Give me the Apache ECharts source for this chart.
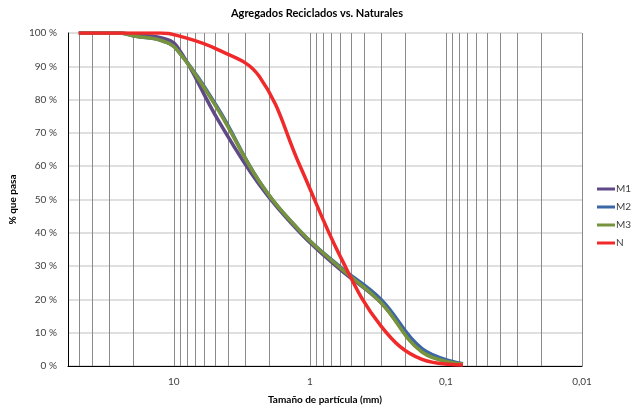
<!DOCTYPE html>
<html>
<head>
<meta charset="utf-8">
<script src="https://cdn.jsdelivr.net/npm/echarts@6/dist/echarts.min.js"></script>
<style>html,body{margin:0;padding:0;background:#fff}#c{width:634px;height:410px}</style>
</head>
<body>
<div id="c"></div>
<script>
const sizes = [50, 37.5, 25, 19, 12.5, 9.5, 4.75, 2.36, 1.18, 0.6, 0.3, 0.15, 0.075];
const M1 = [100, 100, 100, 99.4, 98.6, 96, 74, 54.5, 40, 29, 19, 4.5, 0.6];
const M2 = [100, 100, 100, 99, 97.8, 95, 77.5, 55.5, 40.5, 29.8, 20, 5.2, 0.7];
const M3 = [100, 100, 100, 99, 97.8, 95, 77, 55.5, 40.5, 29.5, 19, 4.2, 0.6];
const N  = [100, 100, 100, 100, 100, 99.3, 95, 87, 60, 33, 12, 2, 0.3];
const seriesNames = ['M1', 'M2', 'M3', 'N'];
const xTickValues = [10, 1, 0.1, 0.01];
const xTickLabels = ['10', '1', '0,1', '0,01'];
const minorGrid = [50, 40, 30, 20, 9, 8, 7, 6, 5, 4, 3, 2, 0.9, 0.8, 0.7, 0.6, 0.5, 0.4, 0.3, 0.2,
                   0.09, 0.08, 0.07, 0.06, 0.05, 0.04, 0.03, 0.02];
const colors = ['#5F4A87', '#3D66A6', '#77933C', '#F02A2A'];

const FONT = 'Lato';
const pairs = arr => sizes.map((s, i) => [s, arr[i]]);
const all = [M1, M2, M3, N];

const chart = echarts.init(document.getElementById('c'), null, {renderer: 'canvas'});
const series = [{
  type: 'line', name: '_grid', data: [], silent: true, z: 1,
  markLine: {
    z: 1, silent: true, symbol: 'none', animation: false,
    label: {show: false},
    lineStyle: {color: '#8a8a8a', width: 1, type: 'solid'},
    emphasis: {disabled: true},
    data: minorGrid.map(v => ({xAxis: v}))
  }
}];
all.forEach((arr, i) => {
  series.push({
    type: 'line', name: seriesNames[i], data: pairs(arr),
    smooth: 0.4, symbol: 'none', showSymbol: false,
    lineStyle: {color: colors[i], width: 3.5},
    itemStyle: {color: colors[i]},
    z: 3 + i, animation: false
  });
});

chart.setOption({
  animation: false,
  title: {
    text: 'Agregados Reciclados vs. Naturales', left: 'center', top: 3,
    textStyle: {fontFamily: FONT, fontSize: 11, fontWeight: 'bold', color: '#000'}
  },
  grid: {left: 68, right: 52, top: 33, bottom: 41, containLabel: false},
  legend: {
    orient: 'vertical', left: 592, top: 179,
    data: seriesNames, icon: 'rect', itemWidth: 18, itemHeight: 3, itemGap: 8,
    textStyle: {fontFamily: FONT, fontSize: 10, color: '#404040', padding: [0, 0, 0, -4]}
  },
  xAxis: {
    type: 'log', logBase: 10, inverse: true, min: 0.01, max: 60,
    name: 'Tamaño de partícula (mm)', nameLocation: 'middle', nameGap: 29,
    nameTextStyle: {fontFamily: FONT, fontSize: 10, fontWeight: 'bold', color: '#000'},
    axisLine: {show: true, onZero: false, lineStyle: {color: '#000', width: 1}},
    axisTick: {show: false},
    axisLabel: {
      fontFamily: FONT, fontSize: 10, color: '#404040', margin: 11,
      formatter: v => {
        const i = xTickValues.findIndex(t => Math.abs(Math.log10(v) - Math.log10(t)) < 1e-6);
        return i >= 0 ? xTickLabels[i] : '';
      }
    },
    splitLine: {show: true, lineStyle: {color: '#8a8a8a', width: 1}},
    minorTick: {show: false}, minorSplitLine: {show: false}
  },
  yAxis: {
    type: 'value', min: 0, max: 100, interval: 10,
    name: '% que pasa', nameLocation: 'middle', nameGap: 41, nameRotate: 90,
    nameTextStyle: {fontFamily: FONT, fontSize: 10, fontWeight: 'bold', color: '#000'},
    axisLine: {show: true, lineStyle: {color: '#000', width: 1}},
    axisTick: {show: false},
    axisLabel: {fontFamily: FONT, fontSize: 10, color: '#404040', margin: 11, formatter: '{value} %'},
    splitLine: {show: true, lineStyle: {color: '#d4d4d4', width: 1.5}}
  },
  series: series
});
</script>
</body>
</html>
